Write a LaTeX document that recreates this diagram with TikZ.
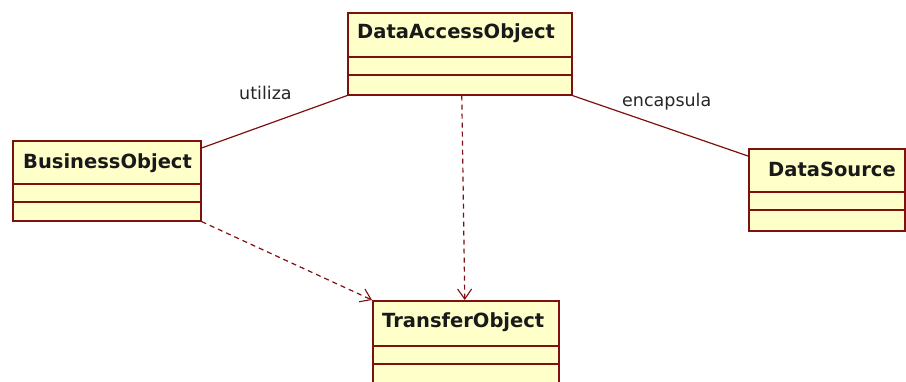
\documentclass[tikz,border=0pt]{standalone}
\usepackage{fontspec}
\setmainfont{DejaVu Sans}
\usetikzlibrary{arrows.meta,calc}
\definecolor{umlborder}{HTML}{7E1010}
\definecolor{umlfill}{HTML}{FFFFCA}
\tikzset{
  classbox/.style={draw=umlborder, fill=umlfill, line width=1.6pt, rectangle, inner sep=0pt, anchor=north west},
  compline/.style={draw=umlborder, line width=1.5pt},
  classname/.style={anchor=base west, inner sep=0pt, font=\bfseries\fontsize{19.5}{22}\selectfont, text=black!90},
  assoc/.style={draw=umlborder, line width=1.2pt},
  depend/.style={draw=umlborder, line width=1.2pt, dash pattern=on 5pt off 4pt, -{Straight Barb[length=10pt,width=14pt,line width=1.1pt]}},
  assoclabel/.style={anchor=base west, inner sep=0pt, font=\fontsize{17.5}{20}\selectfont, text=black!85}
}
\begin{document}
\begin{tikzpicture}[x=1pt,y=-1pt]
\useasboundingbox (0,0) rectangle (906,382);
\clip (0,0) rectangle (906,382);
\fill[white] (0,0) rectangle (906,382);
% DataAccessObject
\node[classbox, minimum width=224pt, minimum height=82pt] (dao) at (347,12) {};
\draw[compline] (347,57) -- (571,57);
\draw[compline] (347,75) -- (571,75);
\node[classname] (daot) at (357,39) {DataAccessObject};
% BusinessObject
\node[classbox, minimum width=188pt, minimum height=80pt] (bo) at (12,140) {};
\draw[compline] (12,184) -- (200,184);
\draw[compline] (12,202) -- (200,202);
\node[classname] (bot) at (23,169) {BusinessObject};
% DataSource
\node[classbox, minimum width=156pt, minimum height=82pt] (ds) at (748,148) {};
\draw[compline] (748,192) -- (904,192);
\draw[compline] (748,210) -- (904,210);
\node[classname] (dst) at (768,177) {DataSource};
% TransferObject
\node[classbox, minimum width=186pt, minimum height=90pt] (to) at (372,300) {};
\draw[compline] (372,346) -- (558,346);
\draw[compline] (372,364) -- (558,364);
\node[classname] (tot) at (382,328) {TransferObject};
% connectors
\coordinate (boA) at ($(bo.north east)+(0,8)$);
\coordinate (dsA) at ($(ds.north west)+(0,8)$);
\draw[assoc] (boA) -- (dao.south west);
\draw[assoc] (dao.south east) -- (dsA);
\draw[depend] (bo.south east) -- (to.north west);
\draw[depend] ($(dao.south)+(2,0)$) -- ($(to.north)+(-1,0)$);
% labels
\node[assoclabel] (lu) at (239,100) {utiliza};
\node[assoclabel] (le) at (622,107) {encapsula};
\end{tikzpicture}
\end{document}
